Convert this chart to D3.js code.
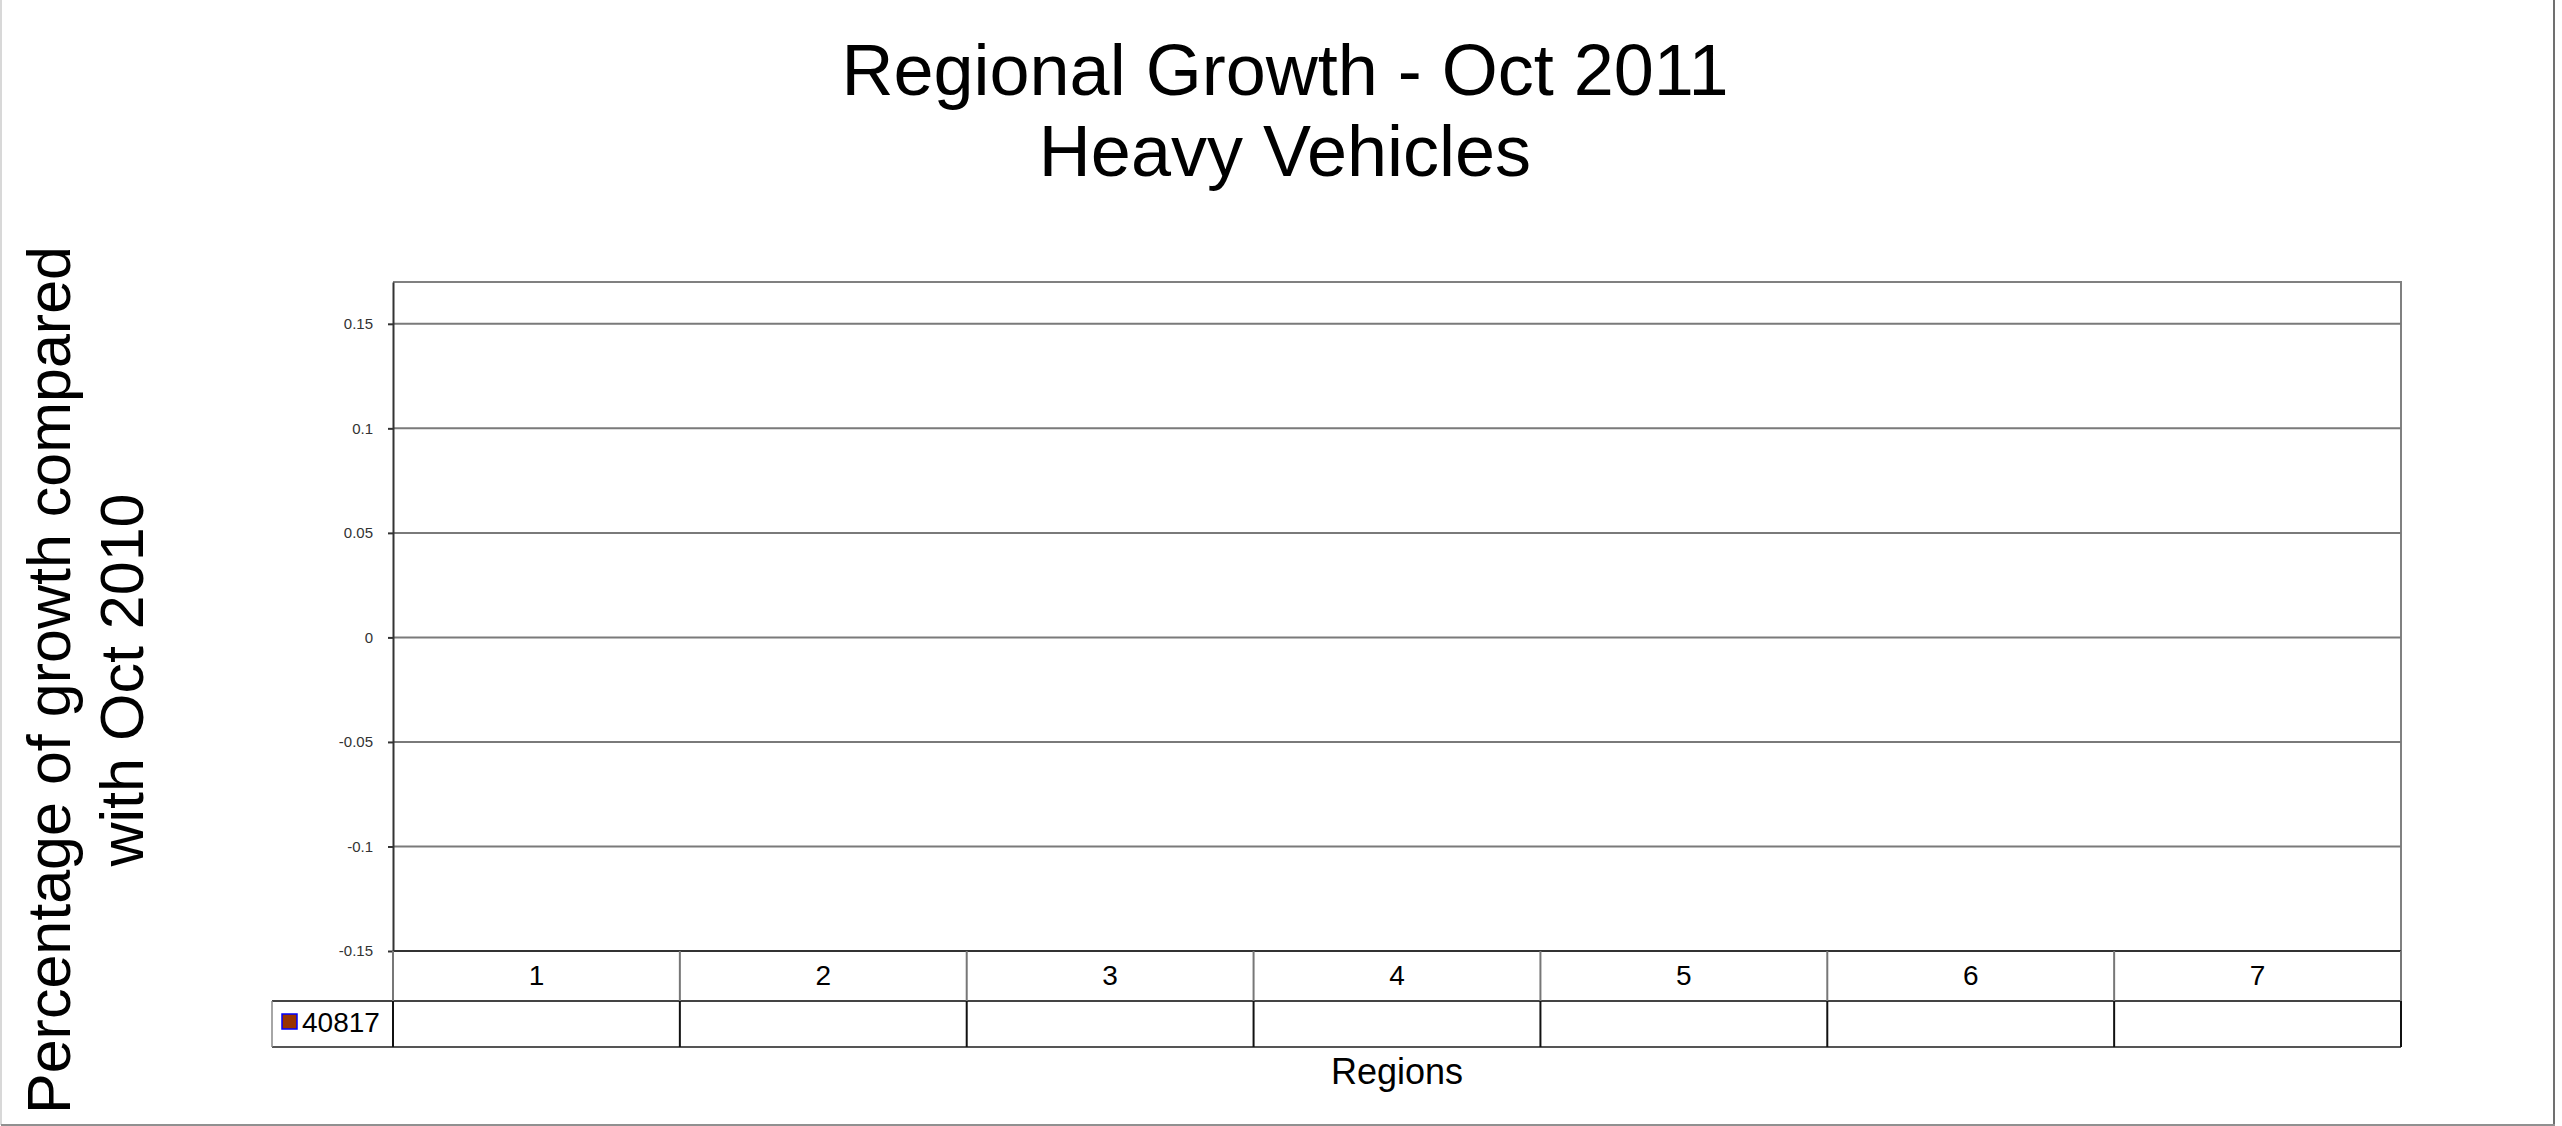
<!DOCTYPE html>
<html>
<head>
<meta charset="utf-8">
<script src="https://cdn.jsdelivr.net/npm/d3@7"></script>
<style>
	body { margin: 0; background: #fff; }
	svg { display: block; font-family: "Liberation Sans", Arial, sans-serif; }
</style>
</head>
<body>
<div id="chart"></div>
<script>
// chart data (the series has no values)
const regions = ["1", "2", "3", "4", "5", "6", "7"];
const seriesName = "40817";
const growth = [null, null, null, null, null, null, null];
const yTicks = [0.15, 0.1, 0.05, 0, -0.05, -0.1, -0.15];
const yTickLabels = ["0.15", "0.1", "0.05", "0", "-0.05", "-0.1", "-0.15"];

const width = 2562, height = 1126;
const margin = {top: 282, right: 161, bottom: 175, left: 393};
const rowH = 50, legendRowH = 46;

const svg = d3.select("#chart").append("svg")
	.attr("width", width)
	.attr("height", height);

// outer frame
svg.append("line").attr("x1", 1).attr("x2", 1).attr("y1", 0).attr("y2", 1125)
	.attr("stroke", "#d8d8d8").attr("stroke-width", 2);
svg.append("line").attr("x1", 2554).attr("x2", 2554).attr("y1", 0).attr("y2", 1125)
	.attr("stroke", "#707070").attr("stroke-width", 2);
svg.append("line").attr("x1", 1).attr("x2", 2555).attr("y1", 1125).attr("y2", 1125)
	.attr("stroke", "#909090").attr("stroke-width", 2);

const x = d3.scaleBand()
	.domain(regions)
	.range([margin.left, width - margin.right]);

const y = d3.scaleLinear()
	.domain([-0.15, 0.17])
	.range([951, margin.top]);

// title
const title = svg.append("text")
	.attr("text-anchor", "middle")
	.attr("font-size", 72)
	.attr("fill", "#000");
title.append("tspan").attr("x", 1285).attr("y", 95).text("Regional Growth - Oct 2011");
title.append("tspan").attr("x", 1285).attr("y", 176).text("Heavy Vehicles");

// y title
const yTitle = svg.append("text")
	.attr("text-anchor", "middle")
	.attr("font-size", 61)
	.attr("fill", "#000")
	.attr("transform", "translate(0,680) rotate(-90)");
yTitle.append("tspan").attr("x", 0).attr("y", 70).text("Percentage of growth compared");
yTitle.append("tspan").attr("x", 0).attr("y", 143).text("with Oct 2010");

// plot area border (top / right)
svg.append("path")
	.attr("d", `M${margin.left},${y(0.17)}H${width - margin.right}V${y(-0.15)}`)
	.attr("fill", "none")
	.attr("stroke", "#808080")
	.attr("stroke-width", 2);

// gridlines
svg.append("g")
	.selectAll("line")
	.data(yTicks)
	.join("line")
	.attr("x1", margin.left)
	.attr("x2", width - margin.right)
	.attr("y1", d => y(d))
	.attr("y2", d => y(d))
	.attr("stroke", "#7a7a7a")
	.attr("stroke-width", 2);

// y axis
const yAxis = d3.axisLeft(y)
	.tickValues(yTicks)
	.tickSizeInner(5)
	.tickSizeOuter(0)
	.tickFormat((d, i) => yTickLabels[i]);

const gY = svg.append("g")
	.attr("transform", `translate(${margin.left},0)`)
	.call(yAxis);
gY.select(".domain").attr("stroke", "#333").attr("stroke-width", 2);
gY.selectAll(".tick line").attr("stroke", "#333").attr("stroke-width", 2);
gY.selectAll(".tick text")
	.attr("x", -20)
	.attr("font-size", 15)
	.attr("font-family", "Liberation Sans, Arial, sans-serif")
	.attr("fill", "#333");

// bars (series has no values, so nothing is drawn)
svg.append("g")
	.selectAll("rect")
	.data(growth.map((v, i) => ({region: regions[i], v})).filter(d => d.v != null))
	.join("rect")
	.attr("x", d => x(d.region) + x.bandwidth() * 0.25)
	.attr("width", x.bandwidth() * 0.5)
	.attr("y", d => y(Math.max(0, d.v)))
	.attr("height", d => Math.abs(y(d.v) - y(0)))
	.attr("fill", "#993300");

// data table
const tY0 = y(-0.15), tY1 = tY0 + rowH, tY2 = tY1 + legendRowH;
const table = svg.append("g");

table.append("line")
	.attr("x1", margin.left).attr("x2", width - margin.right)
	.attr("y1", tY0).attr("y2", tY0)
	.attr("stroke", "#333").attr("stroke-width", 2);
table.append("line")
	.attr("x1", 272).attr("x2", width - margin.right)
	.attr("y1", tY1).attr("y2", tY1)
	.attr("stroke", "#444").attr("stroke-width", 2);
table.append("line")
	.attr("x1", 272).attr("x2", width - margin.right)
	.attr("y1", tY2).attr("y2", tY2)
	.attr("stroke", "#555").attr("stroke-width", 2);
table.append("line")
	.attr("x1", 272).attr("x2", 272)
	.attr("y1", tY1).attr("y2", tY2)
	.attr("stroke", "#888").attr("stroke-width", 1.5);

const bounds = [...regions.map(r => x(r)), width - margin.right];
table.selectAll("line.sep-top")
	.data(bounds)
	.join("line")
	.attr("class", "sep-top")
	.attr("x1", d => d).attr("x2", d => d)
	.attr("y1", tY0).attr("y2", tY1)
	.attr("stroke", "#777").attr("stroke-width", 2);
table.selectAll("line.sep-bot")
	.data(bounds)
	.join("line")
	.attr("class", "sep-bot")
	.attr("x1", d => d).attr("x2", d => d)
	.attr("y1", tY1).attr("y2", tY2)
	.attr("stroke", "#111").attr("stroke-width", 2);

table.selectAll("text.cat")
	.data(regions)
	.join("text")
	.attr("class", "cat")
	.attr("x", d => x(d) + x.bandwidth() / 2)
	.attr("y", tY0 + 34)
	.attr("text-anchor", "middle")
	.attr("font-size", 28)
	.text(d => d);

table.selectAll("text.val")
	.data(growth)
	.join("text")
	.attr("class", "val")
	.attr("x", (d, i) => x(regions[i]) + x.bandwidth() / 2)
	.attr("y", tY1 + 31)
	.attr("text-anchor", "middle")
	.attr("font-size", 28)
	.text(d => d == null ? "" : d);

// legend key
table.append("rect")
	.attr("x", 282).attr("y", 1014)
	.attr("width", 15).attr("height", 15)
	.attr("fill", "#993300")
	.attr("stroke", "#0000ff")
	.attr("stroke-width", 1.5);
table.append("text")
	.attr("x", 302).attr("y", 1032)
	.attr("font-size", 28)
	.text(seriesName);

// x title
svg.append("text")
	.attr("x", (margin.left + width - margin.right) / 2)
	.attr("y", 1084)
	.attr("text-anchor", "middle")
	.attr("font-size", 36)
	.text("Regions");
</script>
</body>
</html>
